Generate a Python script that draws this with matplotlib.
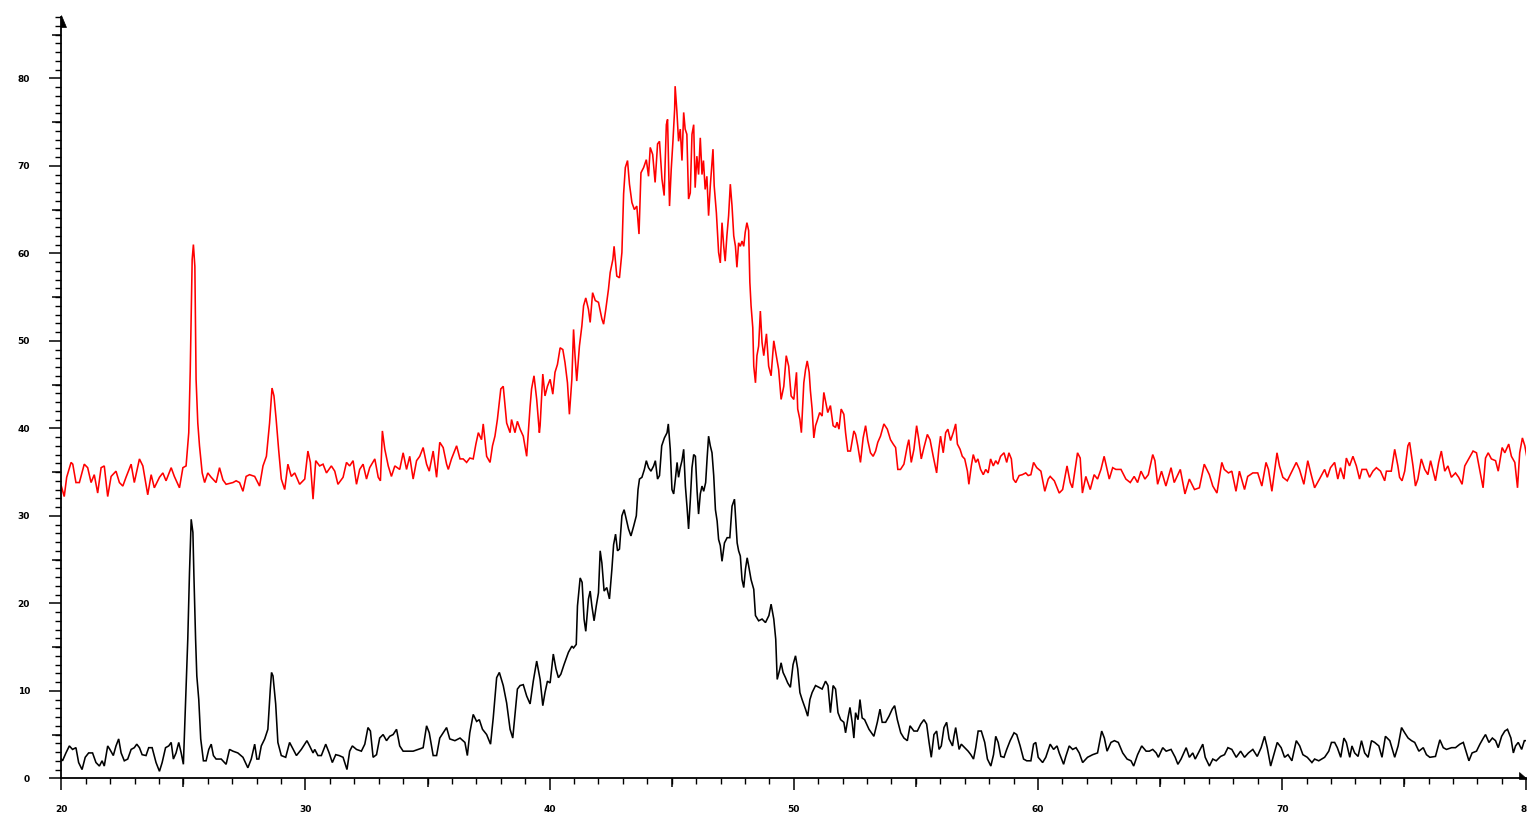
import matplotlib
matplotlib.use("Agg")
import matplotlib.pyplot as plt
import matplotlib.transforms as mtransforms
from matplotlib.patches import Polygon
from matplotlib.ticker import MultipleLocator

# Diffraction scans: (2-theta in degrees, intensity)
scan_red = [
    (20.0, 33.4), (20.12, 32.2), (20.22, 34.4), (20.4, 36.1), (20.47, 35.9), (20.6, 33.8),
    (20.74, 33.8), (20.94, 35.9), (21.08, 35.5), (21.22, 33.8), (21.35, 34.7), (21.49, 32.6),
    (21.63, 35.5), (21.76, 35.7), (21.9, 32.2), (22.04, 34.5), (22.24, 35.1), (22.38, 33.8),
    (22.52, 33.4), (22.65, 34.4), (22.86, 35.9), (22.99, 33.8), (23.2, 36.5), (23.34, 35.7),
    (23.54, 32.4), (23.68, 34.7), (23.81, 33.2), (24.02, 34.4), (24.16, 34.9), (24.29, 34.0),
    (24.5, 35.5), (24.63, 34.5), (24.84, 33.2), (24.98, 35.5), (25.11, 35.7), (25.22, 39.5),
    (25.28, 46.5), (25.36, 59.3), (25.41, 61.0), (25.47, 58.5), (25.52, 45.6), (25.59, 40.6),
    (25.66, 38.0), (25.77, 34.9), (25.87, 33.8), (26.0, 34.9), (26.14, 34.4), (26.34, 33.8),
    (26.48, 35.5), (26.62, 34.1), (26.75, 33.6),
    (27.03, 33.8), (27.16, 34.0), (27.3, 33.8), (27.44, 32.8), (27.57, 34.5), (27.71, 34.7),
    (27.92, 34.5), (28.12, 33.4), (28.26, 35.7), (28.4, 36.8), (28.53, 40.6), (28.63, 44.6),
    (28.71, 43.7), (28.8, 41.0), (28.9, 37.6), (29.01, 34.2), (29.15, 33.0), (29.28, 35.9),
    (29.42, 34.5), (29.56, 34.9), (29.76, 33.6), (29.97, 34.2), (30.1, 37.4), (30.2, 36.1),
    (30.31, 31.9), (30.42, 36.3), (30.58, 35.7), (30.72, 35.9), (30.86, 34.9), (31.06, 35.7),
    (31.2, 35.1), (31.33, 33.6), (31.54, 34.4), (31.68, 36.1), (31.81, 35.7), (31.95, 36.3),
    (32.09, 33.6), (32.22, 35.3), (32.36, 35.9), (32.5, 34.2), (32.63, 35.5), (32.84, 36.5),
    (32.98, 34.4), (33.07, 34.0), (33.15, 39.7), (33.25, 37.6), (33.39, 35.7), (33.52, 34.5),
    (33.66, 35.7), (33.86, 35.3), (34.0, 37.2), (34.14, 35.3), (34.27, 36.8), (34.41, 34.2),
    (34.55, 36.3), (34.68, 36.8), (34.82, 37.8), (34.96, 35.9), (35.07, 35.1), (35.23, 37.4),
    (35.37, 34.4), (35.5, 38.4), (35.64, 37.8), (35.78, 35.9), (35.85, 35.3), (35.98, 36.5),
    (36.19, 38.0), (36.33, 36.5), (36.46, 36.5), (36.6, 36.1), (36.73, 36.6), (36.87, 36.5),
    (36.98, 38.2), (37.08, 39.5), (37.21, 38.7), (37.28, 40.5), (37.42, 36.8), (37.56, 36.1),
    (37.66, 38.0), (37.76, 39.1), (37.86, 41.0), (38.0, 44.5), (38.1, 44.8), (38.24, 40.6),
    (38.38, 39.5), (38.44, 41.0), (38.58, 39.5), (38.68, 40.8), (38.79, 39.9), (38.92, 39.1),
    (39.06, 36.8), (39.2, 42.5), (39.26, 44.5), (39.36, 46.0), (39.47, 43.3), (39.58, 39.5),
    (39.61, 40.3), (39.72, 46.2), (39.81, 43.7), (39.91, 44.8), (40.02, 45.6), (40.13, 43.9),
    (40.22, 46.4), (40.32, 47.3), (40.43, 49.2), (40.54, 49.0), (40.63, 47.5), (40.73, 45.2),
    (40.81, 41.6), (40.91, 45.6), (40.98, 51.3), (41.04, 48.3), (41.11, 45.4), (41.22, 49.4),
    (41.32, 51.7), (41.39, 54.0), (41.48, 54.9), (41.59, 53.6), (41.66, 52.1), (41.76, 55.5),
    (41.87, 54.6), (42.0, 54.4), (42.14, 52.5), (42.21, 51.9), (42.3, 53.6), (42.41, 55.9),
    (42.48, 57.8), (42.59, 59.3), (42.64, 60.8), (42.75, 57.4), (42.86, 57.2), (42.96, 60.1),
    (43.03, 66.8), (43.1, 69.8), (43.19, 70.6), (43.27, 67.9), (43.37, 65.8), (43.47, 65.0),
    (43.57, 65.4), (43.66, 62.2), (43.74, 69.2), (43.85, 69.8), (43.96, 70.7), (44.05, 68.8),
    (44.12, 72.1), (44.22, 71.3), (44.32, 68.1), (44.42, 72.5), (44.5, 72.8), (44.6, 68.5),
    (44.69, 66.6), (44.78, 74.7), (44.83, 75.3), (44.91, 65.4), (44.98, 69.6), (45.05, 72.8),
    (45.12, 76.5), (45.14, 79.1), (45.21, 76.3), (45.28, 72.8), (45.35, 74.2), (45.42, 70.6),
    (45.49, 76.1), (45.55, 74.2), (45.62, 73.6), (45.69, 66.2), (45.76, 66.9), (45.83, 73.6),
    (45.9, 74.7), (45.96, 67.5), (46.03, 71.1), (46.1, 69.0), (46.17, 73.2), (46.24, 69.0),
    (46.3, 70.6), (46.37, 67.3), (46.44, 68.8), (46.51, 64.3), (46.58, 67.7), (46.65, 70.4),
    (46.69, 71.9), (46.74, 67.7), (46.83, 64.6), (46.92, 60.1), (46.99, 58.9), (47.06, 63.5),
    (47.13, 60.8), (47.19, 59.1), (47.26, 62.0), (47.33, 64.3), (47.4, 67.9), (47.47, 65.4),
    (47.54, 62.0), (47.61, 60.8), (47.67, 58.4), (47.74, 61.2), (47.81, 60.8), (47.88, 61.4),
    (47.95, 60.8), (48.01, 62.4), (48.08, 63.5), (48.15, 62.6), (48.2, 56.7), (48.25, 54.0),
    (48.32, 51.5), (48.36, 47.1), (48.43, 45.2), (48.49, 48.3), (48.56, 49.4), (48.63, 53.4),
    (48.7, 49.8), (48.77, 48.3), (48.88, 50.8), (48.97, 47.1), (49.07, 46.0), (49.18, 50.0),
    (49.24, 49.0), (49.31, 47.9), (49.38, 46.7), (49.48, 43.3), (49.59, 44.8), (49.69, 48.3),
    (49.79, 47.1), (49.89, 43.7), (50.0, 43.3), (50.11, 46.4), (50.16, 42.2), (50.25, 41.0),
    (50.31, 39.5), (50.41, 45.2), (50.48, 46.7), (50.55, 47.7), (50.63, 46.4), (50.68, 44.3),
    (50.75, 42.2), (50.82, 38.9), (50.89, 40.3), (50.95, 40.8), (51.06, 41.8), (51.16, 41.4),
    (51.23, 44.1), (51.3, 43.1), (51.39, 41.8), (51.5, 42.6), (51.61, 40.3), (51.71, 40.1),
    (51.77, 40.7), (51.85, 39.9), (51.94, 42.2), (52.05, 41.6), (52.12, 39.5), (52.21, 37.4),
    (52.32, 37.4), (52.46, 39.7), (52.53, 39.3), (52.62, 38.0), (52.73, 36.1), (52.84, 38.9),
    (52.94, 40.3), (53.03, 38.6), (53.14, 37.2), (53.25, 36.8), (53.35, 37.4), (53.44, 38.4),
    (53.55, 39.1), (53.69, 40.5), (53.83, 39.9), (53.96, 38.7), (54.07, 38.2), (54.17, 37.8),
    (54.26, 35.3), (54.37, 35.3), (54.51, 35.9), (54.65, 38.0), (54.71, 38.7), (54.81, 36.1),
    (54.92, 37.6), (55.03, 40.3), (55.12, 38.7), (55.22, 36.5), (55.33, 37.8), (55.47, 39.3),
    (55.58, 38.7), (55.71, 36.8), (55.85, 34.9), (55.94, 37.6), (56.01, 39.1), (56.12, 37.2),
    (56.22, 39.5), (56.31, 39.9), (56.42, 38.6), (56.53, 39.5), (56.63, 40.5), (56.7, 38.2),
    (56.81, 37.6), (56.9, 36.8), (57.0, 36.5), (57.11, 35.1), (57.17, 33.6), (57.27, 35.7),
    (57.35, 37.0), (57.45, 36.1), (57.54, 36.5), (57.65, 35.3), (57.76, 34.7), (57.86, 35.3),
    (57.96, 34.9), (58.06, 36.5), (58.17, 35.7), (58.27, 36.3), (58.36, 35.9), (58.47, 36.8),
    (58.61, 37.2), (58.72, 36.1), (58.81, 37.2), (58.91, 36.5), (58.99, 34.2), (59.09, 33.8),
    (59.23, 34.6), (59.36, 34.7), (59.5, 34.9), (59.6, 34.6),
    (59.71, 34.7), (59.82, 36.1), (59.95, 35.5), (60.12, 35.1), (60.28, 32.8), (60.42, 34.2),
    (60.5, 34.5), (60.67, 34.0), (60.87, 32.6), (61.01, 33.0), (61.19, 35.7), (61.32, 33.8),
    (61.41, 33.2), (61.62, 37.2), (61.73, 36.6), (61.82, 32.6), (61.96, 34.5), (62.14, 33.0),
    (62.3, 34.7), (62.44, 34.2), (62.58, 35.3), (62.71, 36.8), (62.92, 34.2), (63.06, 35.5),
    (63.19, 35.3), (63.4, 35.3), (63.6, 34.2), (63.78, 33.8), (63.94, 34.5), (64.08, 33.8),
    (64.22, 35.1), (64.38, 34.2), (64.52, 34.7), (64.7, 37.0), (64.79, 36.3), (64.9, 33.6),
    (65.06, 35.1), (65.24, 33.4), (65.45, 35.5), (65.58, 33.8), (65.83, 35.3), (66.02, 32.5),
    (66.2, 34.2), (66.41, 33.0), (66.61, 33.2), (66.81, 35.9), (67.02, 34.7), (67.16, 33.4),
    (67.33, 32.6), (67.53, 36.1), (67.63, 35.3), (67.8, 34.9), (67.94, 35.1), (68.11, 32.8),
    (68.25, 35.1), (68.46, 33.0), (68.59, 34.5), (68.8, 34.9), (69.0, 34.9), (69.17, 33.4),
    (69.34, 36.1), (69.44, 35.3), (69.58, 32.8), (69.79, 37.2), (69.89, 35.7), (70.03, 34.4),
    (70.21, 34.0), (70.37, 34.9), (70.58, 36.1), (70.71, 35.3), (70.89, 33.6), (71.05, 36.3),
    (71.19, 34.7), (71.33, 33.2), (71.53, 34.2), (71.74, 35.3), (71.85, 34.4), (71.98, 35.5),
    (72.15, 36.1), (72.28, 34.2), (72.39, 35.5), (72.53, 34.2), (72.63, 36.6), (72.76, 35.7),
    (72.9, 36.8), (73.04, 35.7), (73.17, 34.2), (73.27, 35.3), (73.45, 35.3), (73.58, 34.4),
    (73.72, 35.1), (73.86, 35.5), (74.03, 35.1), (74.2, 34.0), (74.27, 35.1), (74.47, 35.1),
    (74.61, 37.6), (74.74, 35.7), (74.81, 34.4), (74.91, 34.0), (75.02, 35.1), (75.15, 38.0),
    (75.22, 38.4), (75.36, 35.7), (75.46, 33.4), (75.56, 34.2), (75.7, 36.5), (75.84, 35.3),
    (75.97, 34.7), (76.08, 36.3), (76.28, 34.0), (76.41, 36.1), (76.52, 37.4), (76.66, 35.1),
    (76.79, 35.7), (76.93, 34.4), (77.1, 34.9), (77.23, 34.4), (77.37, 33.6), (77.48, 35.7),
    (77.64, 36.5), (77.82, 37.4), (77.96, 37.2), (78.09, 35.3), (78.23, 33.2), (78.33, 36.6),
    (78.44, 37.2), (78.57, 36.5), (78.74, 36.3), (78.85, 35.1), (79.01, 37.8), (79.12, 37.2),
    (79.28, 38.2), (79.39, 36.8), (79.53, 36.1), (79.64, 33.2), (79.73, 37.2), (79.84, 38.9),
    (79.94, 38.0), (80.05, 36.3),
]

scan_black = [
    (20.0, 2.2), (20.05, 2.0), (20.19, 2.9), (20.33, 3.7), (20.46, 3.3), (20.6, 3.5),
    (20.71, 1.8), (20.85, 1.0), (20.98, 2.4), (21.12, 2.9), (21.28, 2.9), (21.42, 1.8),
    (21.56, 1.4), (21.67, 2.0), (21.76, 1.4), (21.9, 3.7), (21.99, 3.3), (22.13, 2.6),
    (22.24, 3.7), (22.35, 4.5), (22.45, 2.9), (22.58, 2.0), (22.72, 2.2), (22.86, 3.3),
    (22.99, 3.5), (23.09, 3.9), (23.2, 3.5), (23.31, 2.7), (23.47, 2.6), (23.58, 3.5),
    (23.72, 3.5), (23.88, 1.8), (24.02, 0.8), (24.13, 1.8), (24.27, 3.5), (24.4, 3.7),
    (24.5, 4.1), (24.59, 2.2), (24.7, 2.9), (24.81, 4.1), (24.91, 2.9), (25.0, 1.6),
    (25.09, 8.8), (25.18, 15.9), (25.25, 23.5), (25.32, 29.6), (25.39, 28.1), (25.43, 23.3),
    (25.5, 15.9), (25.55, 11.7), (25.63, 9.0), (25.71, 4.5), (25.82, 2.0), (25.93, 2.0),
    (26.04, 3.3), (26.14, 3.9), (26.23, 2.6), (26.34, 2.2), (26.55, 2.2), (26.75, 1.6),
    (26.89, 3.3), (27.03, 3.1), (27.23, 2.9), (27.44, 2.4), (27.64, 1.2), (27.78, 2.2),
    (27.92, 3.9), (28.01, 2.2), (28.09, 2.2), (28.19, 3.7), (28.33, 4.5), (28.46, 5.6),
    (28.56, 10.2), (28.61, 12.1), (28.67, 11.7), (28.78, 8.5), (28.87, 4.1), (29.01, 2.6),
    (29.19, 2.4), (29.35, 4.1), (29.46, 3.5), (29.63, 2.6), (29.83, 3.3), (30.06, 4.3),
    (30.17, 3.7), (30.31, 2.9), (30.38, 3.3), (30.51, 2.6), (30.65, 2.6), (30.83, 3.9),
    (30.97, 2.9), (31.1, 1.8), (31.24, 2.7), (31.38, 2.6), (31.54, 2.4), (31.7, 1.0),
    (31.81, 3.1), (31.92, 3.7), (32.09, 3.3), (32.29, 3.1), (32.43, 3.9), (32.56, 5.8),
    (32.66, 5.4), (32.77, 2.4), (32.91, 2.7), (33.04, 4.6), (33.18, 5.0), (33.32, 4.3),
    (33.45, 4.8), (33.59, 5.0), (33.73, 5.6), (33.86, 3.7), (34.0, 3.1), (34.21, 3.1),
    (34.41, 3.1), (34.62, 3.3), (34.82, 3.5), (34.96, 6.0), (35.07, 5.2), (35.23, 2.6),
    (35.37, 2.6), (35.5, 4.6), (35.64, 5.2), (35.78, 5.8), (35.91, 4.5), (36.12, 4.3),
    (36.33, 4.6), (36.53, 4.1), (36.63, 2.6), (36.73, 5.2), (36.87, 7.3), (37.01, 6.5),
    (37.12, 6.7), (37.25, 5.6), (37.42, 5.0), (37.58, 3.9), (37.69, 6.9), (37.83, 11.5),
    (37.94, 12.1), (38.1, 10.6), (38.24, 8.6), (38.38, 5.6), (38.49, 4.6), (38.58, 7.3),
    (38.68, 10.2), (38.79, 10.6), (38.92, 10.7), (39.06, 9.4), (39.2, 8.5), (39.33, 11.1),
    (39.47, 13.4),
    (39.61, 11.3), (39.72, 8.3), (39.81, 9.8), (39.91, 11.1), (40.02, 10.9), (40.15, 14.2),
    (40.26, 12.5), (40.36, 11.5), (40.46, 11.9), (40.59, 13.0), (40.77, 14.4), (40.91, 15.1),
    (40.98, 14.9), (41.09, 15.3), (41.14, 19.7), (41.25, 22.9), (41.33, 22.4), (41.41, 18.2),
    (41.48, 16.8), (41.59, 20.5), (41.66, 21.4), (41.73, 19.7), (41.82, 18.0), (41.91, 19.7),
    (42.0, 21.2), (42.07, 26.0), (42.14, 24.6), (42.23, 21.4), (42.34, 21.8), (42.45, 20.5),
    (42.55, 23.9), (42.62, 26.7), (42.7, 27.9), (42.78, 26.0), (42.86, 26.2), (42.96, 30.0),
    (43.05, 30.7), (43.14, 29.6), (43.23, 28.5), (43.33, 27.7), (43.44, 28.8), (43.55, 30.0),
    (43.62, 33.0), (43.68, 34.2), (43.78, 34.4), (43.88, 35.3), (43.96, 36.3), (44.05, 35.5),
    (44.15, 35.1), (44.26, 35.7), (44.33, 36.3), (44.42, 34.2), (44.5, 34.6), (44.59, 38.0),
    (44.7, 38.9), (44.81, 39.5), (44.86, 40.5), (44.94, 37.6), (45.01, 33.0), (45.08, 32.5),
    (45.15, 34.2), (45.22, 36.1), (45.28, 34.4), (45.35, 35.5), (45.42, 36.3), (45.49, 37.6),
    (45.56, 33.4), (45.63, 30.9), (45.69, 28.5), (45.76, 31.7), (45.83, 35.5), (45.9, 37.0),
    (45.97, 36.8), (46.04, 32.8), (46.1, 30.2), (46.17, 32.5), (46.24, 33.4), (46.31, 32.8),
    (46.39, 33.8), (46.45, 36.6), (46.51, 39.1), (46.58, 38.0), (46.65, 37.2), (46.72, 34.6),
    (46.79, 30.7), (46.86, 29.4), (46.92, 27.3), (46.99, 26.6), (47.06, 24.8), (47.16, 26.9),
    (47.27, 27.5), (47.38, 27.5), (47.47, 31.1), (47.57, 31.9), (47.68, 26.9), (47.74, 26.0),
    (47.81, 25.4), (47.88, 22.7), (47.95, 21.8), (48.02, 23.9), (48.09, 25.2), (48.15, 24.3),
    (48.25, 22.7), (48.36, 21.6), (48.43, 18.6), (48.56, 18.0), (48.7, 18.2), (48.84, 17.8),
    (48.98, 18.6), (49.07, 19.9), (49.18, 18.2), (49.26, 15.9), (49.32, 11.3), (49.43, 12.5),
    (49.48, 13.2), (49.56, 12.1), (49.66, 11.5), (49.75, 10.9), (49.86, 10.4), (49.97, 13.0),
    (50.07, 14.0), (50.16, 12.5), (50.25, 9.8), (50.34, 9.0), (50.48, 7.9), (50.57, 7.1),
    (50.66, 9.0), (50.75, 9.8), (50.89, 10.6), (51.03, 10.4), (51.16, 10.2), (51.3, 11.1),
    (51.4, 10.6), (51.5, 7.5), (51.61, 10.6), (51.71, 10.2), (51.81, 7.5), (51.92, 6.7),
    (52.05, 6.4), (52.12, 5.2), (52.22, 6.9), (52.3, 8.1), (52.39, 6.4), (52.46, 4.6),
    (52.53, 7.5), (52.63, 6.7), (52.71, 9.0), (52.8, 6.9), (52.9, 6.7), (53.08, 5.6),
    (53.28, 4.8), (53.42, 6.4), (53.53, 7.9), (53.62, 6.4), (53.76, 6.4), (53.9, 7.1),
    (54.03, 7.9), (54.13, 8.3), (54.24, 6.7), (54.38, 5.2), (54.51, 4.6), (54.65, 4.3),
    (54.76, 6.0), (54.92, 5.4), (55.06, 5.4), (55.2, 6.2), (55.33, 6.7), (55.44, 6.2),
    (55.54, 4.1), (55.63, 2.4), (55.74, 5.0), (55.85, 5.4), (55.95, 3.3), (56.04, 3.7),
    (56.15, 5.8), (56.26, 6.4), (56.36, 4.5), (56.5, 3.7), (56.56, 4.8), (56.63, 5.8),
    (56.77, 3.3), (56.86, 3.9), (57.0, 3.5), (57.14, 3.1), (57.25, 2.7), (57.36, 2.2),
    (57.45, 3.5), (57.55, 5.4), (57.68, 5.4), (57.82, 4.1), (57.93, 2.2), (58.07, 1.4),
    (58.18, 2.7), (58.27, 4.8), (58.37, 4.1), (58.48, 2.5), (58.61, 2.4), (58.72, 3.3),
    (58.86, 4.3), (59.02, 5.2), (59.13, 5.0), (59.27, 3.7), (59.41, 2.2), (59.54, 2.0),
    (59.71, 2.0), (59.82, 3.9), (59.91, 4.1), (60.01, 2.4), (60.19, 1.8), (60.32, 2.4),
    (60.5, 3.9), (60.64, 3.3), (60.78, 3.7), (60.87, 2.9), (61.05, 1.6), (61.14, 2.5),
    (61.28, 3.7), (61.42, 3.3), (61.56, 3.5), (61.69, 2.9), (61.83, 1.8), (62.03, 2.4),
    (62.24, 2.7), (62.44, 2.9), (62.61, 5.4), (62.72, 4.6), (62.83, 3.1), (62.99, 4.1),
    (63.13, 4.3), (63.29, 4.1), (63.47, 2.9), (63.65, 2.2), (63.81, 2.0), (63.92, 1.4),
    (64.08, 2.7), (64.25, 3.7), (64.43, 3.1), (64.56, 3.1), (64.7, 3.3), (64.84, 2.9),
    (64.93, 2.4), (65.11, 3.5), (65.25, 3.1), (65.45, 3.3), (65.62, 2.4), (65.73, 1.6),
    (65.86, 2.2), (66.07, 3.5), (66.2, 2.4), (66.34, 2.9), (66.44, 2.2), (66.57, 2.9),
    (66.75, 3.9), (66.85, 2.4), (67.02, 1.4), (67.16, 2.2), (67.3, 2.0), (67.48, 2.5),
    (67.64, 2.7), (67.78, 3.5), (67.94, 3.3), (68.12, 2.4), (68.3, 3.1), (68.46, 2.4),
    (68.62, 2.9), (68.8, 3.3), (68.98, 2.5), (69.14, 3.5), (69.28, 4.8), (69.39, 3.5),
    (69.53, 1.4), (69.66, 2.7), (69.8, 4.1), (69.96, 3.5), (70.1, 2.4), (70.24, 2.7),
    (70.4, 2.0), (70.58, 4.3), (70.72, 3.7), (70.85, 2.7), (71.03, 2.4), (71.22, 1.8),
    (71.33, 2.2), (71.5, 2.0), (71.74, 2.4), (71.91, 3.1), (72.02, 4.1), (72.15, 4.1),
    (72.26, 3.5), (72.4, 2.4), (72.53, 4.6), (72.63, 4.1), (72.77, 2.4), (72.86, 3.7),
    (72.97, 2.9), (73.11, 2.5), (73.25, 4.3), (73.38, 2.9), (73.52, 2.4), (73.66, 4.3),
    (73.79, 4.1), (73.96, 3.7), (74.09, 2.4), (74.23, 4.8), (74.41, 4.3), (74.61, 2.4),
    (74.75, 3.7), (74.89, 5.8), (75.02, 5.2), (75.16, 4.6), (75.3, 4.3), (75.43, 4.1),
    (75.6, 3.1), (75.78, 3.5), (75.91, 2.7), (76.05, 2.4), (76.28, 2.5), (76.46, 4.4),
    (76.6, 3.5), (76.73, 3.3), (76.94, 3.5), (77.1, 3.5), (77.28, 3.9), (77.42, 4.1),
    (77.55, 2.9), (77.65, 2.0), (77.78, 2.9), (77.96, 3.1), (78.1, 3.9), (78.24, 4.6),
    (78.33, 5.0), (78.47, 4.1), (78.61, 4.6), (78.74, 4.3), (78.85, 3.5), (78.99, 4.8),
    (79.12, 5.4), (79.23, 5.6), (79.37, 4.6), (79.47, 2.9), (79.56, 3.7), (79.67, 4.1),
    (79.81, 3.3), (79.92, 4.3), (80.05, 4.3),
]

x_major_ticks = [20, 30, 40, 50, 60, 70, 80]
x_mid_ticks = [25, 35, 45, 55, 65, 75]
y_major_ticks = [0, 10, 20, 30, 40, 50, 60, 70, 80]
y_mid_ticks = [5, 15, 25, 35, 45, 55, 65, 75, 85]

W, H = 1527, 816
fig = plt.figure(figsize=(W / 100, H / 100), dpi=100)
ax = fig.add_axes([61.3 / W, (H - 778.3) / H, 1465.0 / W, 761.25 / H])

for scan, colour in ((scan_red, "#ff0000"), (scan_black, "#000000")):
    tt, counts = zip(*scan)
    ax.plot(tt, counts, color=colour, lw=1.15, solid_joinstyle="miter")

ax.set_xlim(20, 80)
ax.set_ylim(0, 87)

for side in ("top", "right"):
    ax.spines[side].set_visible(False)
for side in ("left", "bottom"):
    ax.spines[side].set_linewidth(1.3)
    ax.spines[side].set_color("black")

ax.set_xticks(x_major_ticks)
ax.set_yticks(y_major_ticks)
ax.xaxis.set_minor_locator(MultipleLocator(1))
ax.yaxis.set_minor_locator(MultipleLocator(1))
ax.tick_params(which="major", length=8.6, width=1.1, direction="out",
               labelsize=6.5, colors="black")
ax.tick_params(which="minor", length=4.3, width=1.0, direction="out")
ax.tick_params(axis="x", which="major", pad=10.5)
ax.tick_params(axis="y", which="major", pad=14)
for lab in ax.get_xticklabels() + ax.get_yticklabels():
    lab.set_fontweight("bold")

# mid-length ticks at the fives
secx = ax.secondary_xaxis(0)
secx.set_xticks(x_mid_ticks)
secx.tick_params(length=6.5, width=1.1, direction="out", labelbottom=False)
secx.spines["bottom"].set_visible(False)
secy = ax.secondary_yaxis(0)
secy.set_yticks(y_mid_ticks)
secy.tick_params(length=6.5, width=1.1, direction="out", labelleft=False)
secy.spines["left"].set_visible(False)

# arrowheads at the ends of both axes
ident = mtransforms.IdentityTransform()
x0, y0 = ax.transAxes.transform((0, 0))
x1, y1 = ax.transAxes.transform((1, 1))
fig.add_artist(Polygon([(x0 - 0.8, y1 + 2), (x0 - 0.8, y1 - 10), (x0 + 5, y1 - 10)],
                       closed=True, facecolor="black", edgecolor="black", lw=0.5,
                       transform=ident, clip_on=False))
fig.add_artist(Polygon([(x1 + 0.5, y0 - 0.6), (x1 - 7, y0 - 0.6), (x1 - 7, y0 + 6)],
                       closed=True, facecolor="black", edgecolor="black", lw=0.5,
                       transform=ident, clip_on=False))

fig.savefig("out.png", dpi=100, facecolor="white")
